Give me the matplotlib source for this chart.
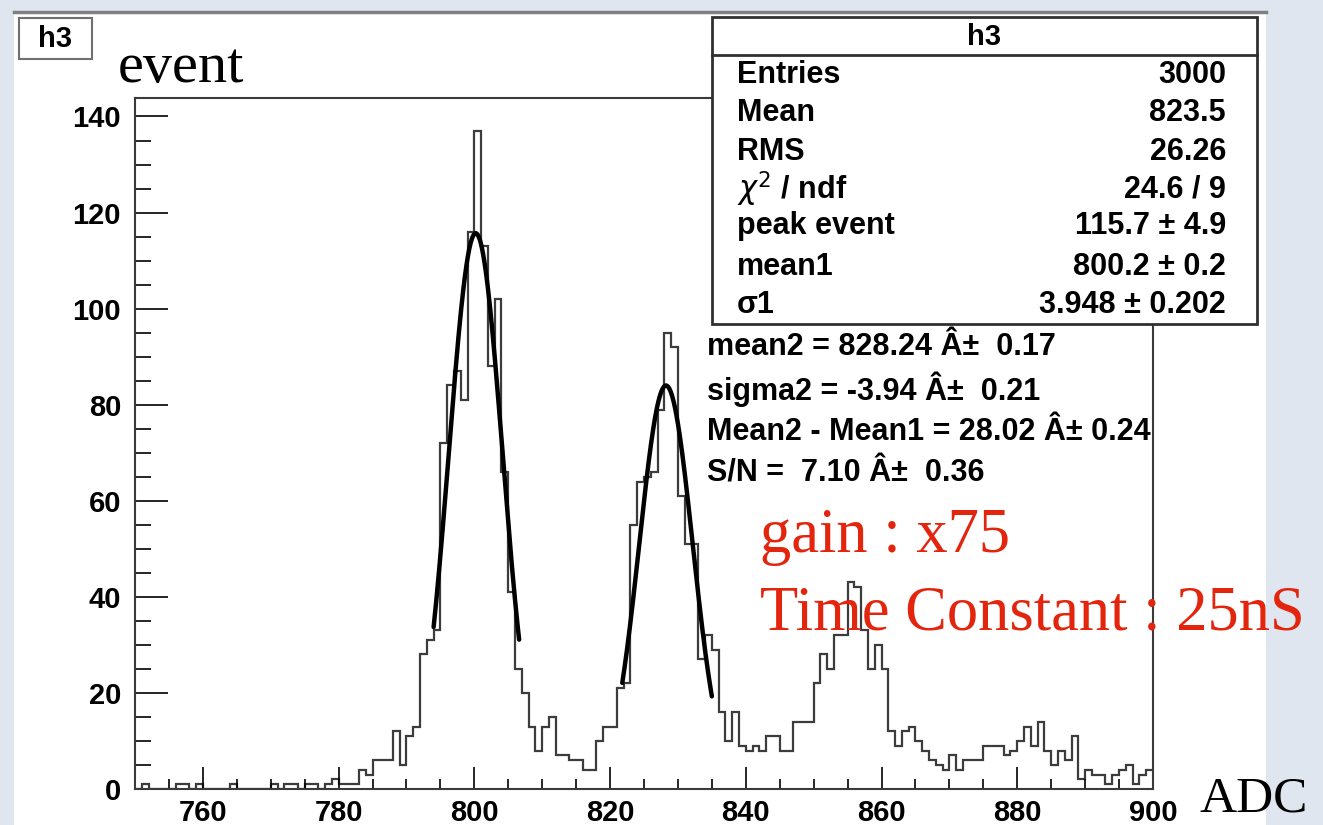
"""
ROOT-style ADC histogram (h3) with two gaussian fits, redrawn in matplotlib.
"""
import numpy as np
import matplotlib

matplotlib.use("Agg")
import matplotlib.pyplot as plt
from matplotlib.patches import Rectangle
from matplotlib.ticker import MultipleLocator


W, H = 1323, 825
SANS = ["Liberation Sans", "DejaVu Sans"]
SERIF = ["Liberation Serif", "DejaVu Serif"]

# histogram: 1 ADC wide bins from 750 to 900
ADC_LO = 750
ADC_HI = 900
counts = [
    0, 1, 0, 0, 0, 0, 1, 1, 0, 1,              # 750-759
    0, 0, 0, 0, 1, 0, 0, 0, 0, 0,              # 760-769
    1, 0, 1, 1, 0, 1, 1, 0, 1, 2,              # 770-779
    1, 1, 1, 4, 3, 6, 6, 6, 12, 5,             # 780-789
    11, 13, 28, 31, 33, 72, 84, 87, 81, 116,   # 790-799
    137, 113, 88, 102, 66, 41, 25, 20, 13, 8,  # 800-809
    13, 15, 7, 7, 6, 6, 4, 4, 10, 13,          # 810-819
    13, 21, 22, 55, 64, 65, 66, 79, 95, 92,    # 820-829
    61, 51, 51, 27, 32, 29, 16, 10, 16, 9,     # 830-839
    8, 9, 8, 11, 11, 8, 8, 14, 14, 14,         # 840-849
    22, 28, 25, 32, 32, 43, 42, 33, 25, 30,    # 850-859
    25, 12, 9, 12, 13, 10, 8, 6, 5, 4,         # 860-869
    7, 4, 6, 6, 6, 9, 9, 9, 7, 8,              # 870-879
    10, 13, 9, 14, 8, 5, 8, 6, 11, 2,          # 880-889
    4, 3, 3, 1, 3, 4, 5, 1, 3, 4,              # 890-899
]

# gaussian fits: (amplitude, mean, sigma, x from, x to)
fit1 = (115.7, 800.2, 3.948, 794.0, 806.6)
fit2 = (84.0, 828.24, 3.94, 821.8, 835.0)

x_ticks = list(range(760, 901, 20))
y_ticks = list(range(0, 141, 20))

stats_labels = ["Entries", "Mean", "RMS", r"$\chi^{2}$ / ndf", "peak event", "mean1", "σ1"]
stats_values = ["3000", "823.5", "26.26", "24.6 / 9", "115.7 ± 4.9", "800.2 ± 0.2", "3.948 ± 0.202"]

fit_lines = [
    "mean2 = 828.24 Â±  0.17",
    "sigma2 = -3.94 Â±  0.21",
    "Mean2 - Mean1 = 28.02 Â± 0.24",
    "S/N =  7.10 Â±  0.36",
]


def fx(px):
    return px / W


def fy(py):
    return 1 - py / H


def gauss(x, amp, mean, sigma):
    return amp * np.exp(-0.5 * ((x - mean) / sigma) ** 2)


def add_box(fig, x0, y0, x1, y1, edge, lw, z):
    rect = Rectangle((fx(x0), fy(y1)), fx(x1) - fx(x0), fy(y0) - fy(y1),
                     transform=fig.transFigure, facecolor="white", edgecolor=edge, lw=lw, zorder=z)
    fig.add_artist(rect)


def main():
    fig = plt.figure(figsize=(W / 100, H / 100), dpi=100, facecolor="#dfe6f0")

    # white ROOT canvas behind everything
    add_box(fig, 14, 12, 1266, 826, "none", 0, -5)
    fig.add_artist(plt.Line2D([fx(14), fx(1266)], [fy(12), fy(12)], transform=fig.transFigure,
                              color="#808080", lw=2.5, zorder=-4))

    ax = fig.add_axes([fx(135), fy(789), fx(1153) - fx(135), fy(98) - fy(789)])
    ax.set_facecolor("white")
    ax.set_zorder(1)

    edges = np.arange(ADC_LO, ADC_HI + 1)
    ax.stairs(counts, edges, color="#3c3c3c", lw=1.6, baseline=None)

    for amp, mean, sigma, lo, hi in (fit1, fit2):
        xs = np.linspace(lo, hi, 200)
        ax.plot(xs, gauss(xs, amp, mean, sigma), color="black", lw=3.2, solid_capstyle="round")

    ax.set_xlim(ADC_LO, ADC_HI)
    ax.set_ylim(0, max(counts) * 1.05)
    ax.set_xticks(x_ticks)
    ax.set_yticks(y_ticks)
    ax.xaxis.set_minor_locator(MultipleLocator(5))
    ax.yaxis.set_minor_locator(MultipleLocator(5))
    ax.tick_params(axis="x", which="major", direction="in", length=16, width=1.2, pad=7,
                   labelsize=21)
    ax.tick_params(axis="x", which="minor", direction="in", length=7, width=1.2)
    ax.tick_params(axis="y", which="major", direction="in", length=24, width=1.2, pad=10,
                   labelsize=21)
    ax.tick_params(axis="y", which="minor", direction="in", length=11.5, width=1.2)
    for lab in ax.get_xticklabels() + ax.get_yticklabels():
        lab.set_fontweight("bold")
        lab.set_family(SANS)
    for spine in ax.spines.values():
        spine.set_color("#3a3a3a")
        spine.set_linewidth(1.5)

    # title box
    add_box(fig, 19, 18, 92, 59, "#707070", 1.5, 3)
    fig.text(fx(55), fy(39), "h3", ha="center", va="center", fontsize=21, fontweight="bold",
             family=SANS, zorder=4)
    fig.text(fx(118), fy(82), "event", ha="left", va="baseline", fontsize=42, family=SERIF)

    # stats box
    add_box(fig, 712, 17, 1257, 324, "#303030", 2, 3)
    fig.add_artist(plt.Line2D([fx(712), fx(1257)], [fy(55), fy(55)], transform=fig.transFigure,
                              color="#303030", lw=2, zorder=4))
    fig.text(fx(984), fy(37), "h3", ha="center", va="center", fontsize=21, fontweight="bold",
             family=SANS, zorder=5)
    row_y = [75, 113, 152, 189, 226, 267, 305]
    for py, label, value in zip(row_y, stats_labels, stats_values):
        fig.text(fx(737), fy(py), label, ha="left", va="center", fontsize=22,
                 fontweight="bold", family=SANS, zorder=5)
        fig.text(fx(1226), fy(py), value, ha="right", va="center", fontsize=22,
                 fontweight="bold", family=SANS, zorder=5)

    for py, line in zip([347, 389, 432, 473], fit_lines):
        fig.text(fx(707), fy(py), line, ha="left", va="center", fontsize=22,
                 fontweight="bold", family=SANS, zorder=5)

    fig.text(fx(760), fy(552), "gain : x75", ha="left", va="baseline", fontsize=45,
             color="#e3250d", family=SERIF, zorder=6)
    fig.text(fx(760), fy(629), "Time Constant : 25nS", ha="left", va="baseline", fontsize=45,
             color="#e3250d", family=SERIF, zorder=6)
    fig.text(fx(1199), fy(823), "ADC", ha="left", va="bottom", fontsize=37, family=SERIF,
             zorder=6)

    fig.savefig("out.png", dpi=100, facecolor=fig.get_facecolor())
    plt.close(fig)


if __name__ == "__main__":
    main()
